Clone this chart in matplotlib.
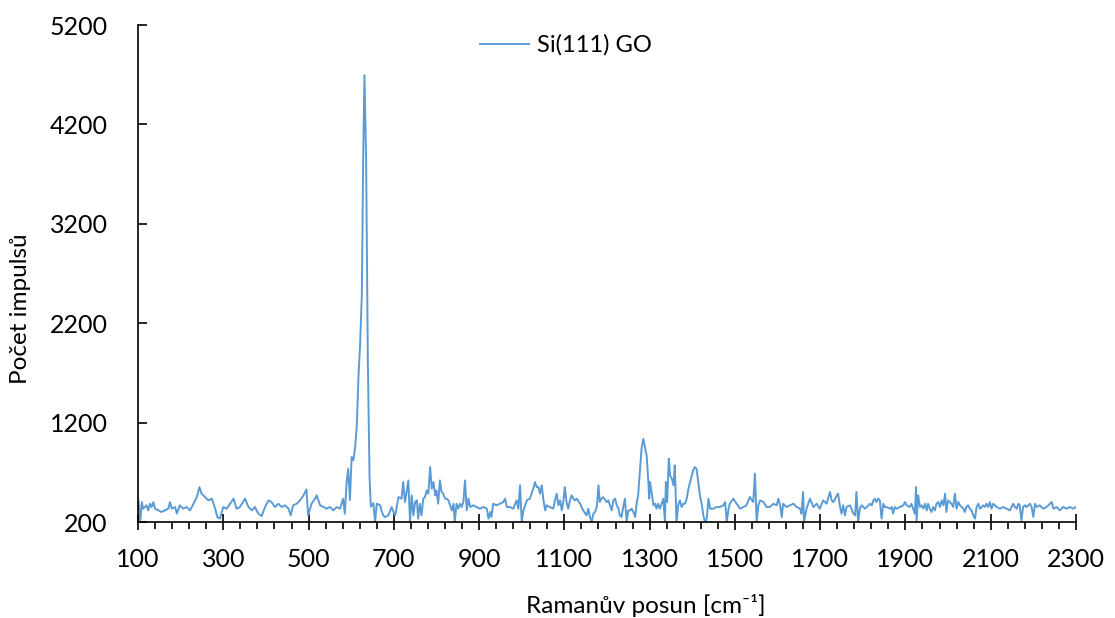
import numpy as np
import matplotlib.pyplot as plt
from matplotlib.ticker import FixedLocator

plt.rcParams["font.family"] = ["Lato", "DejaVu Sans"]

# Raman shift [cm^-1] and counts, Si(111) GO sample
shift = [
    101, 105, 109, 112, 120, 124, 128, 132, 136, 140, 148, 155, 163, 171, 175, 179,
    187, 191, 198, 206, 214, 222, 230, 238, 244, 249, 257, 265, 273, 281, 286, 292,
    300, 308, 316, 324, 331, 339, 351, 359, 367, 374, 382, 390, 398, 406, 413, 421,
    429, 437, 445, 453, 458, 464, 472, 480, 488, 495, 499, 507, 515, 519, 527, 535,
    542, 550, 558, 566, 574, 581, 585, 589, 593, 597, 601, 605, 609, 613, 617, 621,
    625, 628, 631, 635, 639, 643, 646, 652, 656, 660, 668, 671, 675, 679, 687, 695,
    699, 703, 711, 718, 722, 726, 730, 734, 738, 742, 746, 750, 754, 757, 761, 765,
    769, 773, 777, 781, 785, 789, 793, 797, 800, 804, 808, 812, 816, 820, 824, 828,
    832, 836, 840, 843, 847, 851, 855, 859, 863, 867, 871, 875, 879, 886, 894, 902,
    910, 918, 922, 926, 929, 933, 941, 949, 957, 961, 965, 972, 980, 988, 992, 996,
    1000, 1004, 1012, 1019, 1027, 1031, 1035, 1039, 1043, 1047, 1051, 1055, 1058, 1066, 1074, 1078,
    1082, 1086, 1090, 1094, 1098, 1101, 1105, 1109, 1113, 1117, 1121, 1125, 1129, 1137, 1144, 1152,
    1156, 1160, 1164, 1168, 1172, 1176, 1180, 1183, 1187, 1191, 1199, 1203, 1207, 1211, 1215, 1219,
    1223, 1227, 1230, 1234, 1238, 1242, 1246, 1250, 1254, 1258, 1262, 1266, 1270, 1273, 1277, 1281,
    1285, 1289, 1293, 1297, 1299, 1301, 1305, 1309, 1313, 1316, 1320, 1324, 1328, 1332, 1336, 1338,
    1341, 1345, 1348, 1352, 1356, 1359, 1363, 1367, 1371, 1375, 1379, 1383, 1387, 1391, 1395, 1399,
    1402, 1406, 1410, 1414, 1418, 1422, 1426, 1430, 1434, 1438, 1442, 1449, 1457, 1465, 1473, 1477,
    1481, 1485, 1488, 1496, 1504, 1512, 1520, 1527, 1535, 1543, 1547, 1551, 1555, 1559, 1567, 1574,
    1582, 1590, 1598, 1602, 1606, 1610, 1613, 1621, 1629, 1637, 1645, 1653, 1656, 1660, 1662, 1668,
    1676, 1684, 1692, 1699, 1707, 1715, 1723, 1727, 1731, 1739, 1742, 1746, 1750, 1754, 1758, 1762,
    1770, 1778, 1782, 1785, 1789, 1793, 1797, 1801, 1805, 1809, 1817, 1821, 1825, 1828, 1832, 1836,
    1840, 1844, 1848, 1852, 1856, 1864, 1868, 1871, 1875, 1879, 1887, 1895, 1899, 1903, 1910, 1914,
    1918, 1922, 1925, 1926, 1930, 1934, 1938, 1942, 1946, 1950, 1953, 1957, 1961, 1965, 1969, 1973,
    1977, 1981, 1985, 1989, 1993, 1996, 2000, 2004, 2008, 2012, 2016, 2020, 2024, 2028, 2032, 2036,
    2039, 2043, 2047, 2051, 2055, 2059, 2063, 2067, 2071, 2075, 2079, 2082, 2086, 2090, 2094, 2098,
    2102, 2106, 2114, 2122, 2129, 2137, 2145, 2153, 2157, 2161, 2165, 2168, 2172, 2176, 2180, 2184,
    2192, 2196, 2200, 2204, 2208, 2215, 2223, 2231, 2239, 2243, 2247, 2255, 2262, 2270, 2278, 2286,
    2294, 2299,
]
counts = [
    418, 200, 401, 334, 368, 317, 384, 351, 401, 334, 317, 301, 317, 334, 401, 334,
    351, 284, 368, 334, 351, 317, 384, 451, 552, 485, 451, 418, 435, 334, 250, 234,
    351, 334, 384, 435, 334, 351, 435, 351, 317, 351, 284, 260, 351, 418, 401, 351,
    384, 351, 368, 334, 267, 368, 384, 418, 468, 528, 267, 384, 435, 468, 368, 351,
    334, 351, 317, 351, 334, 435, 284, 589, 736, 421, 854, 820, 944, 1156, 1659, 2000,
    2500, 3840, 4697, 3840, 1830, 656, 354, 390, 200, 384, 368, 317, 267, 250, 267, 351,
    301, 267, 451, 435, 602, 401, 502, 619, 200, 468, 267, 401, 418, 234, 384, 267,
    435, 451, 518, 485, 753, 535, 602, 468, 518, 384, 619, 502, 485, 435, 435, 418,
    368, 317, 384, 200, 384, 334, 384, 351, 401, 619, 317, 435, 351, 368, 351, 334,
    351, 334, 234, 301, 250, 384, 368, 384, 401, 435, 351, 351, 334, 418, 334, 569,
    200, 317, 418, 435, 535, 602, 552, 552, 485, 569, 418, 317, 368, 351, 334, 418,
    485, 368, 418, 317, 418, 552, 401, 334, 418, 468, 435, 418, 435, 384, 317, 267,
    334, 250, 200, 284, 301, 351, 569, 401, 435, 451, 401, 418, 368, 317, 418, 435,
    368, 334, 267, 250, 351, 435, 200, 317, 317, 334, 301, 250, 401, 468, 703, 937,
    1037, 954, 870, 602, 435, 602, 485, 368, 384, 334, 384, 334, 384, 435, 200, 602,
    401, 837, 669, 636, 569, 770, 200, 368, 418, 351, 384, 384, 435, 535, 602, 669,
    719, 753, 736, 602, 468, 384, 267, 200, 234, 435, 334, 334, 351, 351, 368, 401,
    200, 334, 384, 435, 384, 334, 351, 368, 451, 401, 686, 200, 368, 418, 401, 351,
    351, 384, 368, 435, 368, 250, 384, 351, 368, 384, 351, 334, 284, 502, 200, 334,
    435, 351, 384, 334, 418, 384, 502, 418, 401, 468, 485, 368, 284, 368, 267, 351,
    368, 284, 267, 502, 200, 334, 368, 351, 334, 351, 384, 368, 418, 435, 401, 435,
    418, 234, 384, 351, 351, 334, 351, 284, 351, 334, 351, 368, 401, 368, 351, 384,
    334, 284, 552, 200, 468, 351, 368, 334, 384, 317, 384, 334, 301, 351, 317, 384,
    401, 351, 418, 368, 485, 301, 418, 401, 384, 351, 485, 334, 401, 368, 351, 334,
    301, 351, 368, 334, 317, 267, 234, 351, 384, 334, 351, 368, 351, 384, 351, 401,
    334, 384, 351, 334, 351, 334, 317, 384, 351, 334, 384, 368, 217, 351, 368, 351,
    384, 351, 250, 384, 351, 368, 334, 351, 384, 401, 334, 351, 317, 351, 334, 351,
    334, 351,
]

x_ticks = np.arange(100, 2301, 200)
x_minor = np.arange(100, 2301, 40)
y_ticks = np.arange(200, 5201, 1000)

fig = plt.figure(figsize=(11.15, 6.18), dpi=100)
ax = fig.add_axes([0.1238, 0.1553, 0.8412, 0.8042])

ax.plot(shift, counts, color="#5B9BD5", linewidth=1.4, label="Si(111) GO")

ax.set_xlim(100, 2300)
ax.set_ylim(200, 5200)
ax.xaxis.set_major_locator(FixedLocator(x_ticks))
ax.xaxis.set_minor_locator(FixedLocator(x_minor))
ax.yaxis.set_major_locator(FixedLocator(y_ticks))

for side in ["top", "right"]:
    ax.spines[side].set_visible(False)
for side in ["left", "bottom"]:
    ax.spines[side].set_linewidth(1.2)
    ax.spines[side].set_color("black")

ax.tick_params(axis="x", which="major", direction="inout", length=11, width=1.2,
               labelsize=18, pad=13)
ax.tick_params(axis="x", which="minor", direction="out", length=5, width=1.2)
ax.tick_params(axis="y", which="major", direction="in", length=6.5, width=1.2,
               labelsize=18, pad=22)

ax.set_xlabel("Ramanův posun [cm⁻¹]", fontsize=17.5, va="center")
ax.set_ylabel("Počet impulsů", fontsize=17.5, va="center")
ax.xaxis.set_label_coords(0.5416, -0.167)
ax.yaxis.set_label_coords(-0.1258, 0.4286)

ax.legend(loc="center", bbox_to_anchor=(0.5076, 0.927), bbox_transform=fig.transFigure,
          frameon=False, fontsize=17, handlelength=2.1, handletextpad=0.35)

fig.savefig("out.png", dpi=100)
